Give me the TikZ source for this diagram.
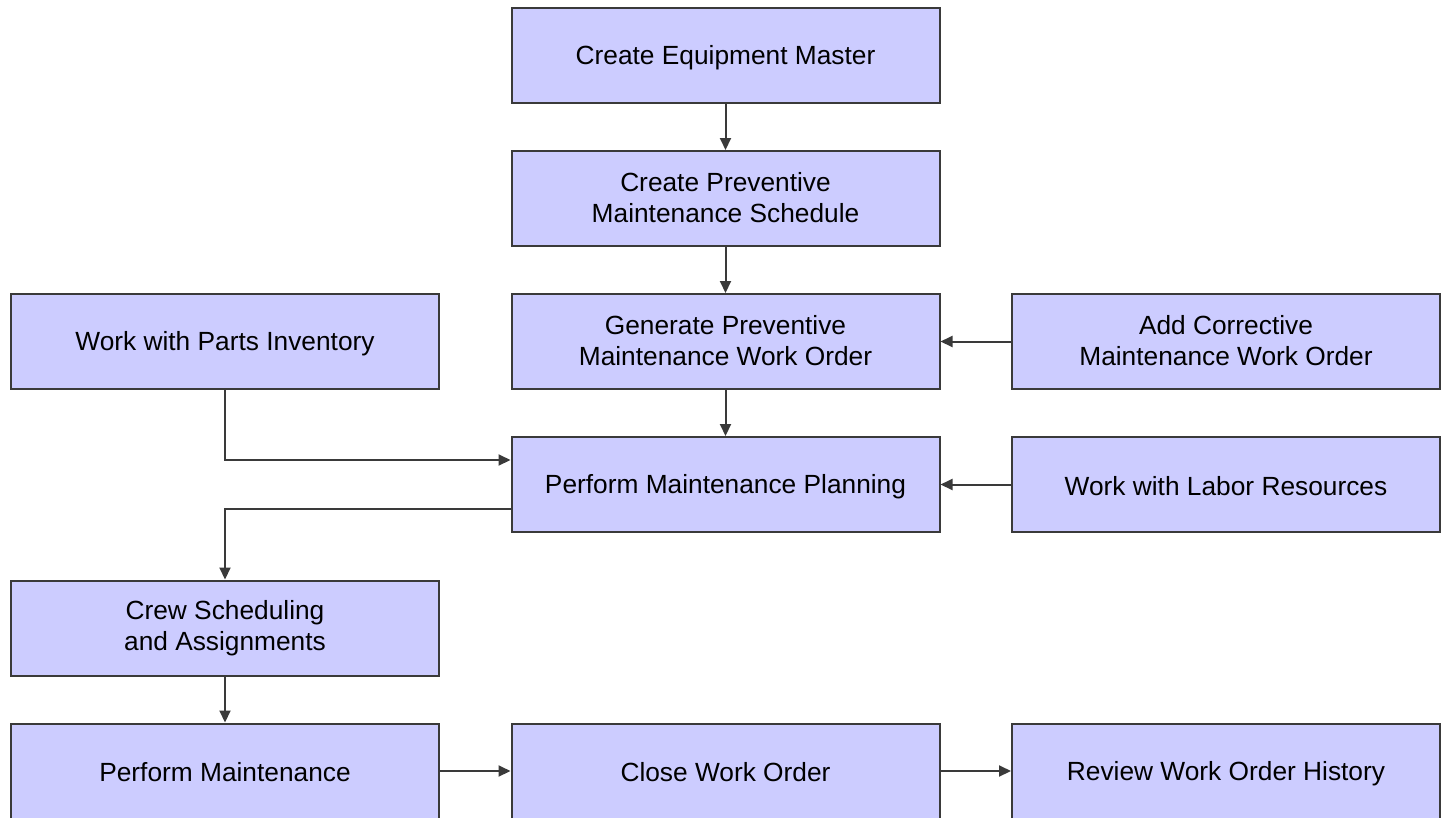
\documentclass[tikz,border=0pt]{standalone}
\usepackage{fontspec}
\setmainfont{Liberation Sans}
\usetikzlibrary{arrows.meta,calc}
\definecolor{boxfill}{HTML}{CCCCFF}
\definecolor{boxline}{HTML}{3A3A3A}
\newcommand{\boxstrut}{\rule[-3pt]{0pt}{27pt}}
\begin{document}
\begin{tikzpicture}[x=1pt,y=-1pt,
  box/.style={draw=boxline,line width=2pt,fill=boxfill,minimum width=428pt,minimum height=95pt,
    align=center,inner sep=0pt,font=\fontsize{26.3}{31}\selectfont,
    execute at begin node=\boxstrut, execute at end node=\boxstrut},
  conn/.style={draw=boxline,line width=2pt,-{Triangle[length=12pt,width=11pt]}}]
\useasboundingbox (0,0) rectangle (1448,817);
\begin{scope}
\clip (0,0) rectangle (1448,817);
\node[box] (equip) at (725.5,55.5) {Create Equipment Master};
\node[box] (pms) at (725.5,198.5) {Create Preventive\\Maintenance Schedule};
\node[box] (gen) at (725.5,341.5) {Generate Preventive\\Maintenance Work Order};
\node[box] (corr) at (1226,341.5) {Add Corrective\\Maintenance Work Order};
\node[box] (parts) at (225,341.5) {Work with Parts Inventory};
\node[box] (plan) at (725.5,484.5) {Perform Maintenance Planning};
\node[box] (labor) at (1226,484.5) {Work with Labor Resources};
\node[box] (crew) at (225,628) {Crew Scheduling\\and Assignments};
\node[box] (perf) at (225,771) {Perform Maintenance};
\node[box] (close) at (725.5,771) {Close Work Order};
\node[box] (review) at (1226,771) {Review Work Order History};
\coordinate (pin) at ($(plan.north west)+(0,24)$);
\coordinate (pout) at ($(plan.south west)+(0,-24)$);
\draw[conn] (equip) -- (pms);
\draw[conn] (pms) -- (gen);
\draw[conn] (corr) -- (gen);
\draw[conn] (gen) -- (plan);
\draw[conn] (labor) -- (plan);
\draw[conn] (parts.south) |- (pin);
\draw[conn] (pout) -| (crew.north);
\draw[conn] (crew) -- (perf);
\draw[conn] (perf) -- (close);
\draw[conn] (close) -- (review);
\end{scope}
\end{tikzpicture}
\end{document}
